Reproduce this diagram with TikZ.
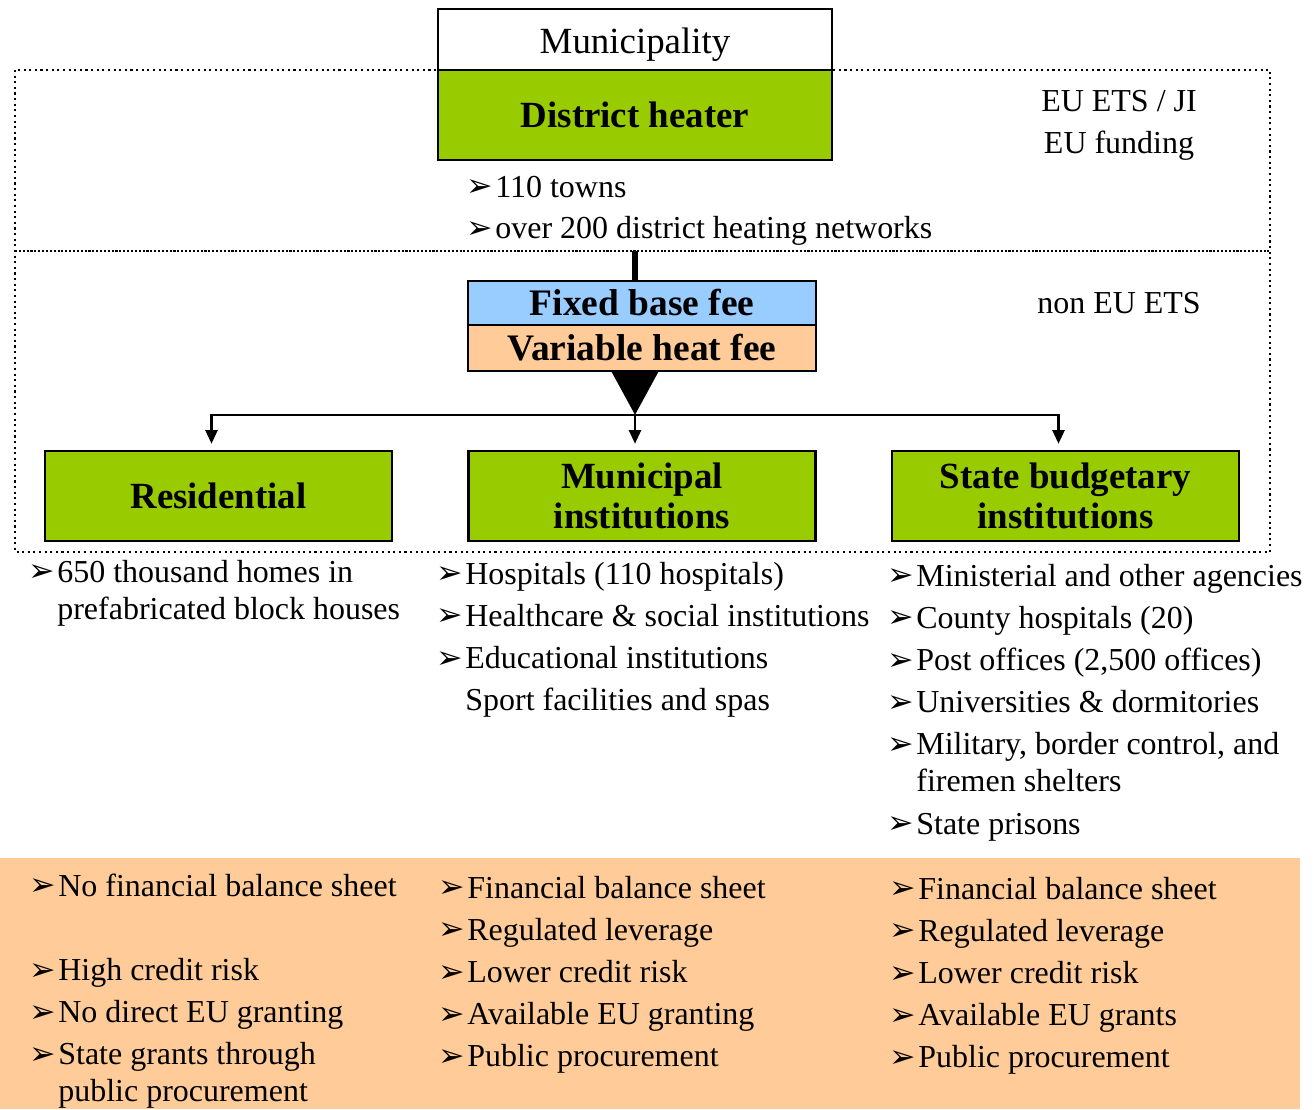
\documentclass[tikz,border=0pt]{standalone}
\usepackage{fontspec}
\setmainfont{Liberation Serif}
\newfontfamily\symfont{DejaVu Sans}
\usetikzlibrary{arrows.meta}

\definecolor{heatgreen}{HTML}{99CC00}
\definecolor{feeblue}{HTML}{99CCFF}
\definecolor{feeorange}{HTML}{FFCC99}

\newcommand{\bul}{\makebox[0.5cm][l]{\hspace{-2pt}\raisebox{0.3pt}{\symfont\fontsize{18}{18}\selectfont ➢}}}
\newcommand{\ind}{\hspace*{0.5cm}}

\tikzset{
  gbox/.style={draw, line width=1.5pt, fill=heatgreen, minimum width=6.94cm, minimum height=1.8cm,
    align=center, inner sep=0pt, font=\fontsize{21}{22.8}\selectfont\bfseries},
  feebox/.style={draw, line width=1.5pt, minimum width=6.96cm, inner sep=0pt,
    font=\fontsize{21.3}{22}\selectfont\bfseries},
  blist/.style={anchor=north west, align=left, inner sep=0pt, font=\fontsize{18.2}{24}\selectfont},
  side/.style={anchor=base, inner sep=0pt, font=\fontsize{18.2}{24}\selectfont},
  feed/.style={line width=1.2pt, shorten >=0.12cm, -{Triangle[length=0.27cm, width=0.24cm]}},
}

\begin{document}
\begin{tikzpicture}[x=0.02cm, y=-0.02cm]
\useasboundingbox (0,0) rectangle (1314,1109);

% financing band
\fill[feeorange] (0,858) rectangle (1300,1109);

% ETS zones
\draw[dotted, line width=1.2pt] (15,70) rectangle (1270,552);
\draw[densely dotted, line width=1.2pt] (15,251) -- (1270,251);

% top
\node[draw, line width=1.5pt, fill=white, minimum width=7.88cm, minimum height=1.22cm, inner sep=0pt,
  font=\fontsize{21}{24}\selectfont] (muni) at (635,39.5) {\raisebox{-3pt}[\height][\depth]{Municipality}};
\node[draw, line width=1.5pt, fill=heatgreen, minimum width=7.88cm, minimum height=1.8cm, inner sep=0pt,
  font=\fontsize{21}{24}\selectfont\bfseries] (heater) at (635,115) {District heater};

\node[side] (ets) at (1119,111) {EU ETS / JI};
\node[side] (fund) at (1119,153) {EU funding};
\node[side] (nonets) at (1119,313) {non EU ETS};

\node[blist] (hlist) at (470,167.4) {\strut\bul 110 towns\\[-0.5pt]
  \bul over 200 district heating networks};

% fees
\node[feebox, fill=feeblue, minimum height=0.88cm] (fixed) at (642,303) {Fixed base fee};
\node[feebox, fill=feeorange, minimum height=0.92cm] (var) at (642,348) {Variable heat fee};

\coordinate (tap) at (635,251);
\coordinate (split) at (635,415);
\draw[line width=3.4pt] (tap) -- (tap |- fixed.north);
\draw[line width=3.4pt, -{Triangle[length=0.86cm, width=0.9cm]}] (var.south -| tap) -- (split);

% consumers
\node[gbox] (resid) at (218.5,496) {Residential};
\node[gbox] (munins) at (642,496) {Municipal\\institutions};
\node[gbox] (statins) at (1065.5,496) {State budgetary\\institutions};

\draw[feed] (split) -| ([xshift=-0.14cm]resid.north);
\draw[feed] (split) -- (split |- munins.north);
\draw[feed] (split) -| ([xshift=-0.14cm]statins.north);

% consumer lists
\node[blist] (reslist) at (32,552.4) {\strut\bul 650 thousand homes in\\[-3pt]
  \ind prefabricated block houses};
\node[blist] (munlist) at (440,554.4) {\strut\bul Hospitals (110 hospitals)\\
  \bul Healthcare \& social institutions\\
  \bul Educational institutions\\
  \ind Sport facilities and spas};
\node[blist] (statlist) at (891,556.4) {\strut\bul Ministerial and other agencies\\
  \bul County hospitals (20)\\
  \bul Post offices (2,500 offices)\\
  \bul Universities \& dormitories\\
  \bul Military, border control, and\\[-3pt]
  \ind firemen shelters\\
  \bul State prisons};

% financing lists
\node[blist] (resfin) at (33,866.4) {\strut\bul No financial balance sheet\\[24pt]
  \bul High credit risk\\
  \bul No direct EU granting\\
  \bul State grants through\\[-3pt]
  \ind public procurement};
\node[blist] (munfin) at (442,868.4) {\strut\bul Financial balance sheet\\
  \bul Regulated leverage\\
  \bul Lower credit risk\\
  \bul Available EU granting\\
  \bul Public procurement};
\node[blist] (statfin) at (893,869.4) {\strut\bul Financial balance sheet\\
  \bul Regulated leverage\\
  \bul Lower credit risk\\
  \bul Available EU grants\\
  \bul Public procurement};
\end{tikzpicture}
\end{document}
